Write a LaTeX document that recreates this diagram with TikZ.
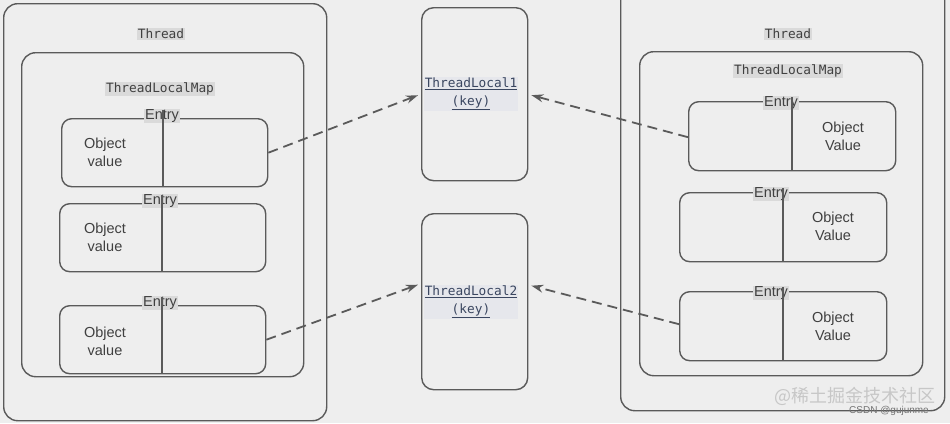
\documentclass[tikz,border=0pt]{standalone}
\usepackage{fontspec}
\setmainfont{Liberation Sans}
\setmonofont{DejaVu Sans Mono}
\newfontfamily\cjkfont{Noto Sans CJK SC}
\usetikzlibrary{arrows.meta}
\definecolor{bgc}{HTML}{EEEEEE}
\definecolor{edge}{HTML}{5A5A5A}
\definecolor{txt}{HTML}{404040}
\definecolor{hl}{HTML}{DADADA}
\definecolor{keyc}{HTML}{3A4660}
\definecolor{keyhl}{HTML}{E6E7EC}
\tikzset{
  x=1pt,y=-1pt,
  box/.style={draw=edge,line width=1.4pt,rounded corners=#1,anchor=north west,inner sep=0pt},
  box/.default=10pt,
  monolbl/.style={fill=hl,inner sep=1pt,text=txt,font=\ttfamily\fontsize{12.8}{15}\selectfont},
  keylbl/.style={fill=keyhl,inner sep=1pt,text=keyc,align=center,font=\ttfamily\fontsize{12.8}{18}\selectfont},
  objlbl/.style={text=txt,align=center,inner sep=0pt,font=\fontsize{14.5}{18}\selectfont},
  entrylbl/.style={fill=hl,inner sep=1pt,text=txt,font=\fontsize{14.5}{16}\selectfont},
  divider/.style={draw=edge,line width=1.4pt},
  ref/.style={draw=edge,line width=1.8pt,dash pattern=on 10pt off 6pt,-{Stealth[length=12pt,width=8pt]}},
}
\begin{document}
\begin{tikzpicture}
\fill[bgc] (0,0) rectangle (950,423);
\useasboundingbox (0,0) rectangle (950,423);
% left thread
\node[box=14pt,minimum width=323pt,minimum height=417pt] (lth) at (3,3) {};
\node[monolbl] (lthl) at (161,34) {Thread};
\node[box=14pt,minimum width=282pt,minimum height=324pt] (lmap) at (21,52) {};
\node[monolbl] (lmapl) at (160,89) {ThreadLocalMap};
% left entries
\node[box,minimum width=206pt,minimum height=68pt] (le1) at (61,118) {};
\node[box,minimum width=206pt,minimum height=68pt] (le2) at (59,203) {};
\node[box,minimum width=206pt,minimum height=68pt] (le3) at (59,305) {};
\node[entrylbl] (le1l) at (162,116) {Entry};
\node[entrylbl] (le2l) at (160,201) {Entry};
\node[entrylbl] (le3l) at (160,303) {Entry};
\coordinate (le1t) at (163,110); \coordinate (le1b) at (163,186);
\coordinate (le2t) at (162,195); \coordinate (le2b) at (162,271);
\coordinate (le3t) at (162,297); \coordinate (le3b) at (162,373);
\draw[divider] (le1t) -- (le1b);
\draw[divider] (le2t) -- (le2b);
\draw[divider] (le3t) -- (le3b);
\node[objlbl] (le1o) at (105,152) {Object\\value};
\node[objlbl] (le2o) at (105,237) {Object\\value};
\node[objlbl] (le3o) at (105,341) {Object\\value};
% middle keys
\node[box=12pt,minimum width=106pt,minimum height=173pt] (tl1) at (421,7) {};
\node[box=12pt,minimum width=106pt,minimum height=176pt] (tl2) at (421,213) {};
\node[keylbl] (tl1l) at (471,94) {\underline{ThreadLocal1}\\\underline{(key)}};
\node[keylbl] (tl2l) at (471,302) {\underline{ThreadLocal2}\\\underline{(key)}};
% right thread
\node[box=14pt,minimum width=324pt,minimum height=430pt] (rth) at (620,-20) {};
\node[monolbl] (rthl) at (788,34) {Thread};
\node[box=14pt,minimum width=283pt,minimum height=324pt] (rmap) at (639,51) {};
\node[monolbl] (rmapl) at (788,71) {ThreadLocalMap};
% right entries
\node[box,minimum width=207pt,minimum height=69pt] (re1) at (688,101) {};
\node[box,minimum width=207pt,minimum height=69pt] (re2) at (679,192) {};
\node[box,minimum width=207pt,minimum height=69pt] (re3) at (679,291) {};
\node[entrylbl] (re1l) at (781,103) {Entry};
\node[entrylbl] (re2l) at (771,194) {Entry};
\node[entrylbl] (re3l) at (771,293) {Entry};
\coordinate (re1t) at (792,97); \coordinate (re1b) at (792,170);
\coordinate (re2t) at (783,188); \coordinate (re2b) at (783,261);
\coordinate (re3t) at (783,287); \coordinate (re3b) at (783,360);
\draw[divider] (re1t) -- (re1b);
\draw[divider] (re2t) -- (re2b);
\draw[divider] (re3t) -- (re3b);
\node[objlbl] (re1o) at (843,136) {Object\\Value};
\node[objlbl] (re2o) at (833,226) {Object\\Value};
\node[objlbl] (re3o) at (833,326) {Object\\Value};
% references
\draw[ref] (le1.east) -- ([xshift=-3pt,yshift=-1pt]tl1.west);
\draw[ref] (le3.east) -- ([xshift=-3pt,yshift=17pt]tl2.west);
\draw[ref] ([yshift=-1pt]re1.west) -- ([xshift=3pt,yshift=-1pt]tl1.east);
\draw[ref] ([yshift=2pt]re3.west) -- ([xshift=3pt,yshift=16pt]tl2.east);
% watermark
\node[text=black!22,font=\cjkfont\fontsize{18}{20}\selectfont,inner sep=0pt] (wm) at (855,396) {@稀土掘金技术社区};
\node[text=black!55,font=\fontsize{10}{11}\selectfont,inner sep=0pt] (wm2) at (889,411) {CSDN @gujunme};
\end{tikzpicture}
\end{document}
